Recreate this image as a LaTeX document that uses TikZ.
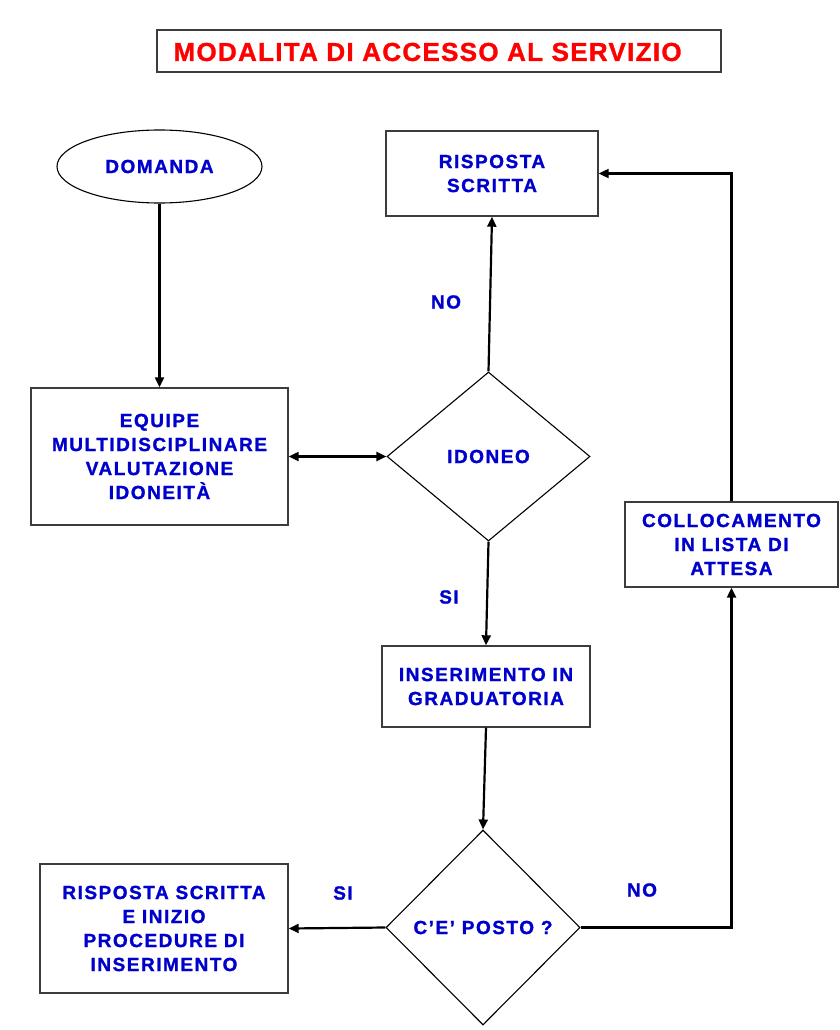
\documentclass[tikz,border=0pt]{standalone}
\usepackage{fontspec}
\setmainfont{Liberation Sans}
\newfontfamily\labfont[LetterSpace=8,BoldFeatures={FakeBold=1.2}]{Liberation Sans}
\newfontfamily\titfont[LetterSpace=5,BoldFeatures={FakeBold=1.2}]{Liberation Sans}
\usetikzlibrary{shapes.geometric,arrows.meta}
\definecolor{txtblue}{RGB}{0,0,204}
\definecolor{boxgray}{RGB}{60,60,60}
\begin{document}
\begin{tikzpicture}[x=1pt,y=-1pt,
  lab/.style={font=\labfont\fontsize{19}{24}\selectfont\bfseries, text=txtblue, align=center},
  box/.style={lab, draw=boxgray, line width=1.4pt, inner sep=0pt},
  dia/.style={lab, diamond, draw=black, line width=1.1pt, inner sep=0pt},
  conn/.style={line width=2.2pt, -{Triangle[length=10pt,width=9pt]}},
]
\useasboundingbox (0,0) rectangle (840,1030);
% title
\node[draw=boxgray, line width=1.4pt, minimum width=564pt, minimum height=42pt, inner sep=0pt] (title) at (439,51) {};
\node[font=\titfont\fontsize{26}{30}\selectfont\bfseries, text=red, anchor=west] (titletext) at (170,52) {MODALITA DI ACCESSO AL SERVIZIO};
% nodes
\node[lab, ellipse, draw=black, line width=1.1pt, minimum width=205pt, minimum height=73pt, inner sep=0pt] (domanda) at (159.5,166.5) {DOMANDA};
\node[box, minimum width=257pt, minimum height=137pt] (equipe) at (159.5,456.5) {EQUIPE\\MULTIDISCIPLINARE\\VALUTAZIONE\\IDONEITÀ};
\node[dia, minimum width=203pt, minimum height=169pt] (idoneo) at (488.5,456.5) {IDONEO};
\node[box, minimum width=212pt, minimum height=85pt] (risposta) at (492,173.5) {RISPOSTA\\SCRITTA};
\node[box, minimum width=208pt, minimum height=81pt] (inser) at (486,686.5) {INSERIMENTO IN\\GRADUATORIA};
\node[dia, minimum width=194pt, minimum height=195pt] (posto) at (483,927.5) {C’E’ POSTO ?};
\node[box, minimum width=248pt, minimum height=129pt] (finale) at (164,928.5) {RISPOSTA SCRITTA\\E INIZIO\\PROCEDURE DI\\INSERIMENTO};
\node[box, minimum width=213pt, minimum height=85pt] (colloc) at (731.5,544.5) {COLLOCAMENTO\\IN LISTA DI\\ATTESA};
% labels
\node[lab] (lno1) at (446,302) {NO};
\node[lab] (lsi1) at (449,597) {SI};
\node[lab] (lsi2) at (343,893) {SI};
\node[lab] (lno2) at (642,890) {NO};
% connectors
\draw[conn] (domanda.south) -- (equipe.north);
\draw[conn, {Triangle[length=10pt,width=9pt]}-{Triangle[length=10pt,width=9pt]}] (equipe.east) -- (idoneo.west);
\draw[conn] (idoneo.north) -- (risposta.south);
\draw[conn] (idoneo.south) -- (inser.north);
\draw[conn] (inser.south) -- (posto.north);
\draw[conn] (posto.west) -- (finale.east);
\draw[conn] (posto.east) -| (colloc.south);
\draw[conn] (colloc.north) |- (risposta.east);
\end{tikzpicture}
\end{document}
